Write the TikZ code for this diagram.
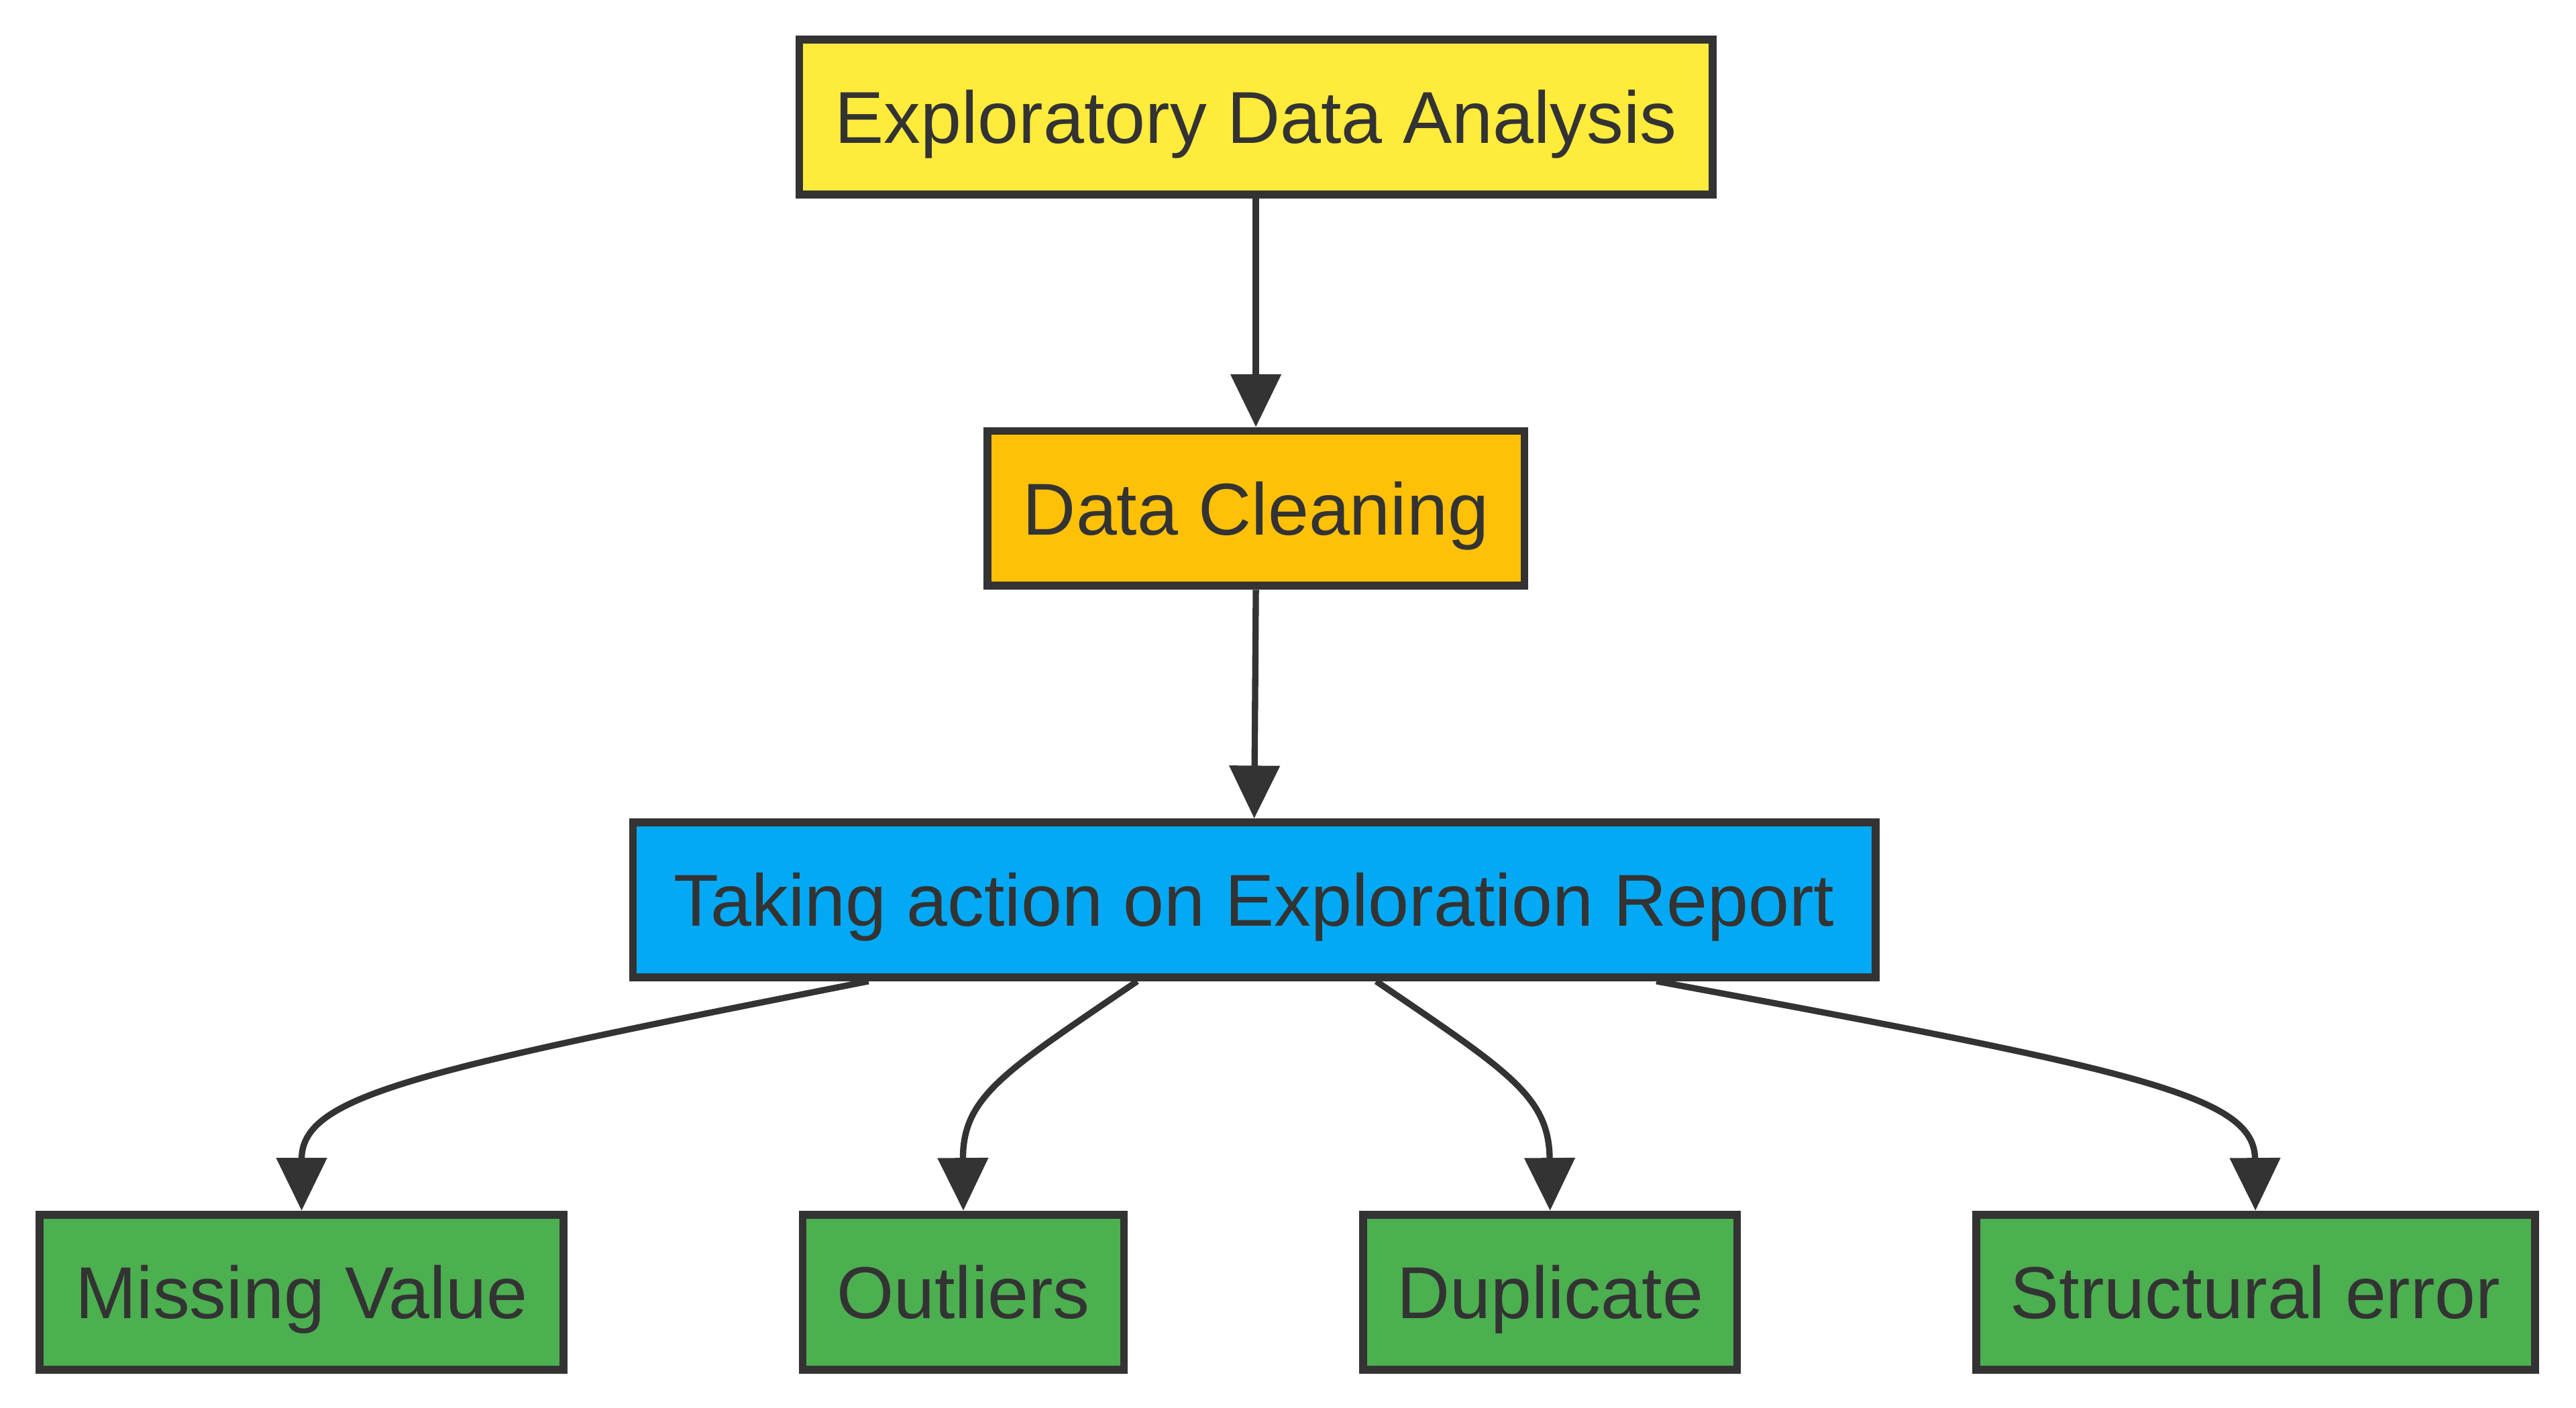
\documentclass[tikz,border=0pt]{standalone}
\usepackage{fontspec}
\setmainfont{Liberation Sans}
\usetikzlibrary{arrows.meta}
\definecolor{ink}{HTML}{333333}
\definecolor{cyellow}{HTML}{FFEB3B}
\definecolor{camber}{HTML}{FFC107}
\definecolor{cblue}{HTML}{03A9F4}
\definecolor{cgreen}{HTML}{4CAF50}
\tikzset{
  box/.style={draw=ink, line width=2.4pt, text=ink, inner sep=0pt, minimum height=47pt,
    text height=16pt, text depth=0pt,
    font=\fontsize{22.3}{26}\selectfont},
  conn/.style={draw=ink, line width=1.9pt, -{Triangle[length=16pt,width=15pt]}},
}
\begin{document}
\begin{tikzpicture}[x=0.5pt,y=-0.5pt]
\useasboundingbox (0,0) rectangle (1563,854);
\node[box, fill=cyellow, minimum width=277pt] (eda) at (762,71) {Exploratory Data Analysis};
\node[box, fill=camber, minimum width=163pt] (dc) at (762,308.5) {Data Cleaning};
\node[box, fill=cblue, minimum width=377pt] (ta) at (761,546) {Taking action on Exploration Report};
\node[box, fill=cgreen, minimum width=159pt] (mv) at (183,784) {Missing Value};
\node[box, fill=cgreen, minimum width=97.5pt] (ou) at (584.5,784) {Outliers};
\node[box, fill=cgreen, minimum width=113.5pt] (du) at (940.5,784) {Duplicate};
\node[box, fill=cgreen, minimum width=169.5pt] (se) at (1368.5,784) {Structural error};
\draw[conn] (eda.south) -- (dc.north);
\draw[conn] (dc.south) -- (ta.north);
\draw[conn] ([xshift=-117pt]ta.south) .. controls (250,650) and (183,665) .. (mv.north);
\draw[conn] ([xshift=-35.5pt]ta.south) .. controls (610,650) and (584,665) .. (ou.north);
\draw[conn] ([xshift=37pt]ta.south) .. controls (915,650) and (940,665) .. (du.north);
\draw[conn] ([xshift=122pt]ta.south) .. controls (1300,650) and (1368,665) .. (se.north);
\end{tikzpicture}
\end{document}
